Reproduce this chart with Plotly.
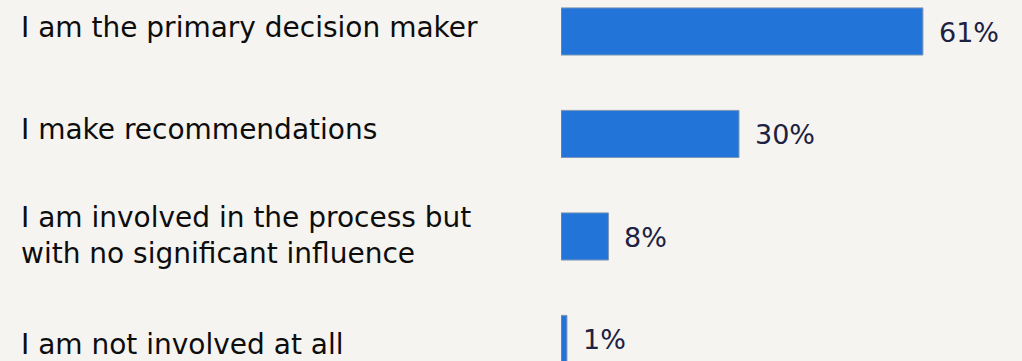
import plotly.graph_objects as go

# Survey responses: role in the purchase decision
categories = [
    "I am the primary decision maker",
    "I make recommendations",
    "I am involved in the process but<br>with no significant influence",
    "I am not involved at all",
]
shares = [61, 30, 8, 1]
share_labels = [f"{v}%" for v in shares]

BG = "#f5f4f0"
BAR = "#2274d8"
LABEL_FONT = "DejaVu Sans"

positions = list(range(len(categories)))

fig = go.Figure(
    go.Bar(
        x=shares,
        y=positions,
        orientation="h",
        width=0.46,
        marker=dict(color=BAR, line=dict(color="#7f98b4", width=1)),
        hoverinfo="skip",
    )
)

# category labels on the left
label_shift = [4, 4, 1, -6]
for pos, text, dy in zip(positions, categories, label_shift):
    fig.add_annotation(
        x=0, xref="paper", xshift=-542, xanchor="left",
        y=pos, yref="y", yanchor="middle", yshift=dy,
        text=text, showarrow=False, align="left",
        font=dict(family=LABEL_FONT, size=28, color="#0d0d0d"),
    )

# value labels next to each bar
for pos, val, text in zip(positions, shares, share_labels):
    fig.add_annotation(
        x=val, xref="x", xshift=14, xanchor="left",
        y=pos, yref="y", yanchor="middle", yshift=-1,
        text=text, showarrow=False,
        font=dict(family=LABEL_FONT, size=27, color="#1d2142"),
    )

fig.update_layout(
    width=1022, height=361,
    margin=dict(l=561, r=0, t=0, b=0),
    paper_bgcolor=BG, plot_bgcolor=BG,
    showlegend=False,
    xaxis=dict(range=[0, 77.7], visible=False, fixedrange=True),
    yaxis=dict(range=[3.215, -0.307], visible=False, fixedrange=True),
)

fig.write_html("out.html", config={"displayModeBar": False})
